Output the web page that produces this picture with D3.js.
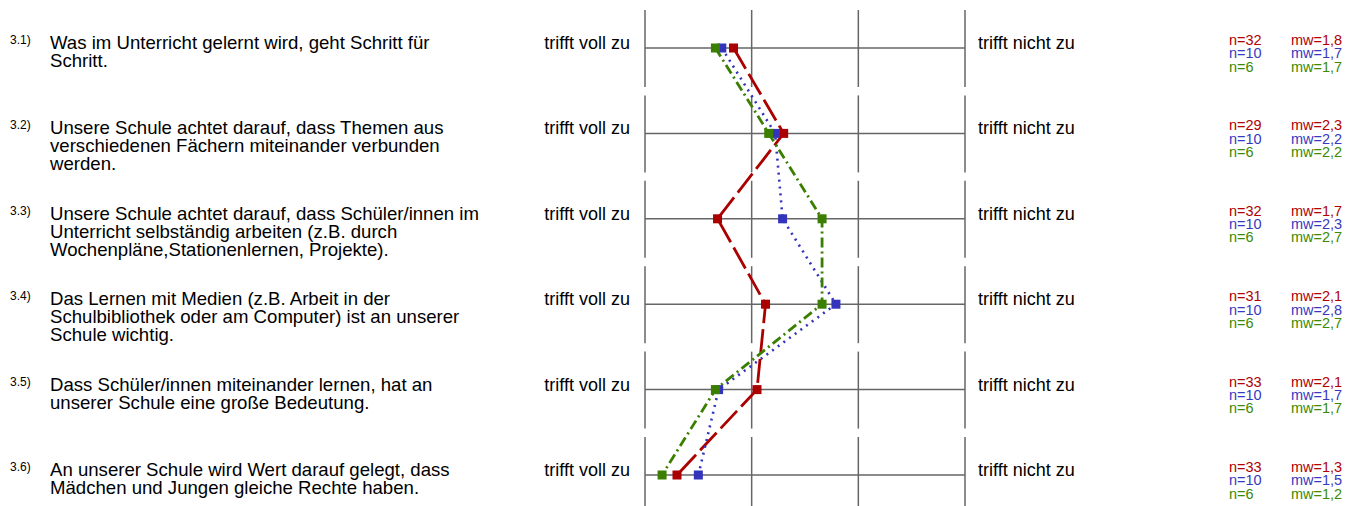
<!DOCTYPE html>
<html>
<head>
<meta charset="utf-8">
<script src="https://cdn.jsdelivr.net/npm/d3@7"></script>
<style>
  body { margin: 0; background: #fff; }
  svg { font-family: "Liberation Sans", Arial, sans-serif; }
</style>
</head>
<body>
<div id="chart"></div>
<script>
const width = 1348, height = 506;

// items
const itemNums = ["3.1)", "3.2)", "3.3)", "3.4)", "3.5)", "3.6)"];
const itemTexts = [
    ["Was im Unterricht gelernt wird, geht Schritt für", "Schritt."],
    ["Unsere Schule achtet darauf, dass Themen aus", "verschiedenen Fächern miteinander verbunden", "werden."],
    ["Unsere Schule achtet darauf, dass Schüler/innen im", "Unterricht selbständig arbeiten (z.B. durch", "Wochenpläne,Stationenlernen, Projekte)."],
    ["Das Lernen mit Medien (z.B. Arbeit in der", "Schulbibliothek oder am Computer) ist an unserer", "Schule wichtig."],
    ["Dass Schüler/innen miteinander lernen, hat an", "unserer Schule eine große Bedeutung."],
    ["An unserer Schule wird Wert darauf gelegt, dass", "Mädchen und Jungen gleiche Rechte haben."]
];
const leftLabel = "trifft voll zu";
const rightLabel = "trifft nicht zu";
const scaleTicks = [1, 2, 3, 4];

// series: red, blue, green
const redMeans   = [1.83, 2.30, 1.68, 2.13, 2.05, 1.30];
const blueMeans  = [1.72, 2.22, 2.29, 2.79, 1.69, 1.50];
const greenMeans = [1.66, 2.16, 2.66, 2.66, 1.66, 1.16];
const redN   = [32, 29, 32, 31, 33, 33];
const blueN  = [10, 10, 10, 10, 10, 10];
const greenN = [6, 6, 6, 6, 6, 6];
const redMw   = ["1,8", "2,3", "1,7", "2,1", "2,1", "1,3"];
const blueMw  = ["1,7", "2,2", "2,3", "2,8", "1,7", "1,5"];
const greenMw = ["1,7", "2,2", "2,7", "2,7", "1,7", "1,2"];

const series = [
    {means: redMeans, n: redN, mw: redMw, color: "#aa0000", text: "#b00000", dash: "24,6", width: 2.8},
    {means: blueMeans, n: blueN, mw: blueMw, color: "#3333bb", text: "#3838c0", dash: "2,5", width: 2.6},
    {means: greenMeans, n: greenN, mw: greenMw, color: "#3a7f00", text: "#3c8a00", dash: "10,4,2,4", width: 2.8}
];

let svg = d3.select("#chart")
    .append("svg")
    .attr("width", width)
    .attr("height", height);

let x = d3.scaleLinear()
    .domain([1, 4])
    .range([645, 965]);

let y = d3.scalePoint()
    .domain(d3.range(itemNums.length))
    .range([48, 475]);

// grid
let grid = svg.append("g");
itemNums.forEach(function(d, i) {
    let g = grid.append("g").attr("transform", `translate(0, ${y(i)})`);
    g.append("line")
        .attr("x1", x(1)).attr("x2", x(4))
        .attr("y1", 0).attr("y2", 0)
        .attr("stroke", "#666").attr("stroke-width", 1.5);
    g.selectAll("line.v").data(scaleTicks).enter()
        .append("line")
        .attr("class", "v")
        .attr("x1", t => x(t)).attr("x2", t => x(t))
        .attr("y1", -38).attr("y2", 39)
        .attr("stroke", "#666").attr("stroke-width", 1.5);

    g.append("text")
        .attr("x", 10).attr("y", -4)
        .style("font-size", "12px")
        .text(d);

    let t = g.append("text")
        .attr("x", 50).attr("y", 1)
        .style("font-size", "18.6px");
    itemTexts[i].forEach(function(line, k) {
        t.append("tspan").attr("x", 50).attr("dy", k === 0 ? 0 : 18).text(line);
    });

    g.append("text")
        .attr("x", 630).attr("y", 1)
        .style("text-anchor", "end")
        .style("font-size", "18px")
        .text(leftLabel);
    g.append("text")
        .attr("x", 978).attr("y", 1)
        .style("font-size", "18px")
        .text(rightLabel);
});

// lines
let line = d3.line()
    .x(d => x(d))
    .y((d, i) => y(i));

series.forEach(function(s) {
    svg.append("path")
        .datum(s.means)
        .attr("d", line)
        .attr("fill", "none")
        .attr("stroke", s.color)
        .attr("stroke-width", s.width)
        .attr("stroke-dasharray", s.dash);
});

// markers
series.forEach(function(s) {
    svg.append("g").selectAll("rect").data(s.means).enter()
        .append("rect")
        .attr("x", d => x(d) - 4.5)
        .attr("y", (d, i) => y(i) - 4.5)
        .attr("width", 9)
        .attr("height", 9)
        .attr("fill", s.color);
});

// stats
series.forEach(function(s, k) {
    let g = svg.append("g");
    s.n.forEach(function(v, i) {
        g.append("text")
            .attr("x", 1229).attr("y", y(i) - 3 + k * 13.3)
            .attr("fill", s.text)
            .style("font-size", "14.5px")
            .text("n=" + v);
        g.append("text")
            .attr("x", 1291).attr("y", y(i) - 3 + k * 13.3)
            .attr("fill", s.text)
            .style("font-size", "14.5px")
            .text("mw=" + s.mw[i]);
    });
});
</script>
</body>
</html>
